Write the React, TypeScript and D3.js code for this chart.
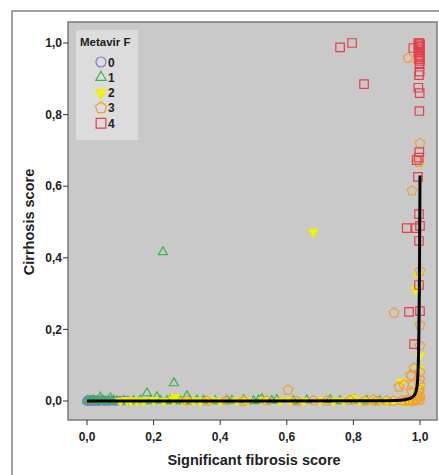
import React from "react";
import * as d3 from "d3";

// Metavir F groups, [significant fibrosis score, cirrhosis score]
const f0: [number, number][] = [
  [0, 0], [0.004, 0.002], [0.008, 0], [0.012, 0.003], [0.016, 0], [0.02, 0.002],
  [0.025, 0], [0.03, 0.001], [0.035, 0], [0.04, 0.002], [0.05, 0], [0.058, 0.001],
  [0.065, 0], [0.075, 0.001], [0.085, 0], [0.1, 0], [0.12, 0.001],
];
const f1: [number, number][] = [
  [0, 0.001], [0.01, 0], [0.02, 0.002], [0.03, 0], [0.04, 0.01], [0.05, 0.001],
  [0.06, 0], [0.07, 0.008], [0.08, 0.002], [0.09, 0], [0.11, 0.001], [0.14, 0],
  [0.16, 0.002], [0.18, 0.022], [0.19, 0], [0.21, 0.011], [0.22, 0.001], [0.228, 0.416],
  [0.24, 0], [0.25, 0.003], [0.261, 0.05], [0.27, 0.001], [0.28, 0], [0.3, 0.014],
  [0.31, 0], [0.33, 0.002], [0.35, 0.001], [0.385, 0], [0.42, 0.002], [0.435, 0.001],
  [0.47, 0.003], [0.5, 0], [0.515, 0.002], [0.525, 0.006], [0.555, 0.001], [0.57, 0.003],
  [0.62, 0], [0.66, 0.002], [0.73, 0.003], [0.76, 0], [0.805, 0.002], [0.84, 0.001], [0.88, 0],
];
const f2: [number, number][] = [
  [0.1, 0], [0.12, 0.002], [0.13, 0], [0.15, 0.001], [0.17, 0], [0.2, 0.002], [0.23, 0],
  [0.26, 0.004], [0.265, 0.01], [0.29, 0], [0.32, 0.001], [0.34, 0], [0.37, 0.002],
  [0.4, 0], [0.45, 0.001], [0.48, 0], [0.53, 0.002], [0.58, 0], [0.61, 0.001], [0.65, 0],
  [0.679, 0.472], [0.7, 0.002], [0.74, 0], [0.77, 0.001], [0.8, 0.008], [0.82, 0],
  [0.85, 0.002], [0.88, 0.001], [0.9, 0], [0.92, 0.002], [0.943, 0.053], [0.95, 0],
  [0.96, 0.001], [0.975, 0.002], [0.985, 0.004], [0.99, 0.02], [0.997, 0.04],
  [0.998, 0.09], [1.0, 0.126], [0.988, 0.31], [0.996, 0.35],
];
const f3: [number, number][] = [
  [0.3, 0.001], [0.36, 0], [0.42, 0.002], [0.47, 0], [0.54, 0.001], [0.604, 0.031],
  [0.63, 0], [0.68, 0.001], [0.72, 0], [0.79, 0.002], [0.835, 0], [0.86, 0.003], [0.87, 0],
  [0.9, 0.001], [0.92, 0], [0.945, 0.002], [0.955, 0], [0.965, 0.003], [0.97, 0.001],
  [0.98, 0], [0.985, 0.004], [0.99, 0.002], [0.993, 0.008], [0.995, 0.015], [0.997, 0.022],
  [1.0, 0.003], [1.0, 0.012], [0.998, 0.03], [1.0, 0.045], [0.937, 0.039], [0.952, 0.045],
  [0.973, 0.073], [0.979, 0.045], [0.976, 0.025], [0.982, 0.092], [0.973, 0.07],
  [1.0, 0.154], [1.0, 0.212], [0.922, 0.246], [1.0, 0.363], [0.976, 0.587], [0.997, 0.667],
  [1.0, 0.72], [0.964, 0.958], [0.999, 0.06], [1.0, 0.08],
];
const f4: [number, number][] = [
  [0.76, 0.988], [0.796, 1.0], [0.832, 0.885], [0.98, 0.986], [0.995, 1.0], [0.998, 1.0],
  [1.0, 0.997], [0.996, 0.993], [1.0, 0.99], [0.997, 0.985], [1.0, 0.98], [0.995, 0.975],
  [1.0, 0.97], [0.998, 0.965], [1.0, 0.96], [0.996, 0.955], [1.0, 0.95], [0.998, 0.94],
  [0.999, 0.92], [0.997, 0.91], [0.995, 0.875], [0.999, 0.86], [0.998, 0.81],
  [0.998, 0.695], [0.996, 0.68], [0.99, 0.673], [0.994, 0.626], [0.997, 0.522],
  [0.96, 0.483], [0.988, 0.483], [1.0, 0.489], [0.997, 0.447], [0.997, 0.324],
  [0.967, 0.249], [1.0, 0.251], [0.982, 0.159],
];

// fitted curve
const curveX = [0, 0.5, 0.9, 0.95, 0.97, 0.98, 0.986, 0.99, 0.993, 0.996, 0.998, 1.0];
const curveY = [0, 0, 0.001, 0.003, 0.007, 0.013, 0.022, 0.035, 0.06, 0.15, 0.3, 0.63];

const groupLabels = ["0", "1", "2", "3", "4"];
const xTicks = [0, 0.2, 0.4, 0.6, 0.8, 1.0];
const yTicks = [0, 0.2, 0.4, 0.6, 0.8, 1.0];

const pentagon = {
  draw(ctx: any, size: number) {
    const r = Math.sqrt(size / 2.38);
    for (let i = 0; i < 5; i++) {
      const a = -Math.PI / 2 + (i * 2 * Math.PI) / 5;
      const px = r * Math.cos(a);
      const py = r * Math.sin(a);
      if (i === 0) ctx.moveTo(px, py);
      else ctx.lineTo(px, py);
    }
    ctx.closePath();
  },
};

const styles = [
  { type: d3.symbolCircle, size: 60, stroke: "#7a7ad0", fill: "none", rotate: 0 },
  { type: d3.symbolTriangle, size: 36, stroke: "#3cb54c", fill: "none", rotate: 0 },
  { type: d3.symbolTriangle, size: 36, stroke: "#eeee00", fill: "#f4f400", rotate: 180 },
  { type: pentagon, size: 62, stroke: "#f0a030", fill: "none", rotate: 0 },
  { type: d3.symbolSquare, size: 72, stroke: "#e5404d", fill: "none", rotate: 0 },
];

function App() {
  const groups = [f0, f1, f2, f3, f4];
  const x = d3.scaleLinear().domain([0, 1]).range([87, 420]);
  const y = d3.scaleLinear().domain([0, 1]).range([401, 43]);
  const fmt = (v: number) => d3.format(".1f")(v).replace(".", ",");
  const font = "'Liberation Sans', Arial, sans-serif";

  const plot = { left: 68, top: 22, right: 437, bottom: 420 };

  const line = d3
    .line<number>()
    .x((d) => x(curveX[d]))
    .y((d) => y(curveY[d]))
    .curve(d3.curveMonotoneX);

  return (
    <svg
      width={439}
      height={475}
      style={{ position: "absolute", left: 0, top: 0 }}
      fontFamily={font}
    >
      <rect width={439} height={475} fill="#fff" />
      <rect x={12} y={11} width={440} height={470} fill="none" stroke="#444" strokeWidth={1} />
      <rect
        x={plot.left}
        y={plot.top}
        width={plot.right - plot.left}
        height={plot.bottom - plot.top}
        fill="#c9c9c9"
        stroke="#7a7a7a"
        strokeWidth={1.5}
      />

      {yTicks.map((t) => (
        <g key={"y" + t}>
          <line x1={plot.left - 5} x2={plot.left} y1={y(t)} y2={y(t)} stroke="#333" />
          <text
            x={plot.left - 6}
            y={y(t)}
            dy="0.35em"
            textAnchor="end"
            fontSize={12}
            fontWeight="bold"
            fill="#222"
          >
            {fmt(t)}
          </text>
        </g>
      ))}
      {xTicks.map((t) => (
        <g key={"x" + t}>
          <line x1={x(t)} x2={x(t)} y1={plot.bottom} y2={plot.bottom + 5} stroke="#333" />
          <text
            x={x(t)}
            y={437}
            dy="0.35em"
            textAnchor="middle"
            fontSize={12}
            fontWeight="bold"
            fill="#222"
          >
            {fmt(t)}
          </text>
        </g>
      ))}

      <text x={254} y={465} textAnchor="middle" fontSize={14.5} fontWeight="bold" fill="#222">
        Significant fibrosis score
      </text>
      <text
        transform="translate(34,222) rotate(-90)"
        textAnchor="middle"
        fontSize={14.5}
        fontWeight="bold"
        fill="#222"
      >
        Cirrhosis score
      </text>

      {groups.map((pts, gi) => {
        const s = styles[gi];
        const path = d3.symbol().type(s.type as any).size(s.size)() as string;
        return (
          <g key={gi}>
            {pts.map((p, i) => (
              <path
                key={i}
                d={path}
                transform={`translate(${x(p[0])},${y(p[1])}) rotate(${s.rotate})`}
                fill={s.fill}
                stroke={s.stroke}
                strokeWidth={1.2}
              />
            ))}
          </g>
        );
      })}

      <path
        d={line(d3.range(curveX.length)) as string}
        fill="none"
        stroke="#000"
        strokeWidth={3}
      />

      <g>
        <rect x={76} y={30} width={62} height={110} fill="#dcdcdc" />
        <text x={80} y={46} fontSize={11.5} fontWeight="bold" fill="#222">
          Metavir F
        </text>
        {groupLabels.map((lab, i) => {
          const s = styles[i];
          const path = d3.symbol().type(s.type as any).size(s.size * 1.3)() as string;
          const cy = 62 + i * 15.3;
          return (
            <g key={lab}>
              <path
                d={path}
                transform={`translate(101,${cy}) rotate(${s.rotate})`}
                fill={s.fill}
                stroke={s.stroke}
                strokeWidth={1.2}
              />
              <text x={108} y={cy} dy="0.38em" fontSize={12} fontWeight="bold" fill="#222">
                {lab}
              </text>
            </g>
          );
        })}
      </g>
    </svg>
  );
}

export default App;
